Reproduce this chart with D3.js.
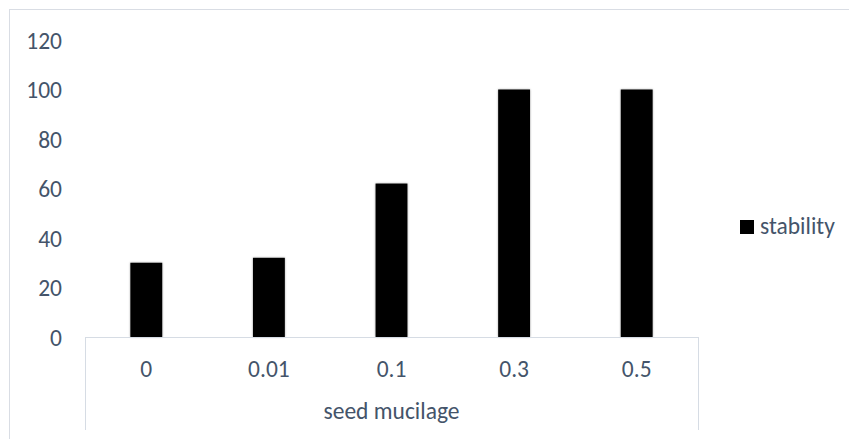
<!DOCTYPE html>
<html><head><meta charset="utf-8">
<script src="https://cdn.jsdelivr.net/npm/d3@7"></script>
<style>body{margin:0;background:#fff;}text{font-family:Carlito,Lato,"Open Sans",sans-serif;}</style>
</head><body>
<svg id="c" width="849" height="439"></svg>
<script>
const categories = ["0","0.01","0.1","0.3","0.5"];
const stability = [30, 32, 62, 100, 100];
const yTicks = [0,20,40,60,80,100,120];
const seriesName = "stability";
const xTitle = "seed mucilage";

(function(){
const svg = d3.select("#c");
const L = 85, R = 698, T = 40, B = 337;
const FS = "23.5px";
const x = d3.scaleBand().domain(categories).range([L, R]).paddingInner(0.74).paddingOuter(0.37);
const y = d3.scaleLinear().domain([0,120]).range([B, T]);
const txt = "#44546a";

svg.append("rect").attr("x",9.5).attr("y",9.5).attr("width",860).attr("height",440)
  .attr("fill","none").attr("stroke","#d9dde4");

const defs = svg.append("defs");
const f = defs.append("filter").attr("id","sh").attr("x","-20%").attr("y","-5%").attr("width","140%").attr("height","110%");
f.append("feGaussianBlur").attr("in","SourceAlpha").attr("stdDeviation",1.2).attr("result","b");
f.append("feComponentTransfer").attr("in","b").attr("result","o2").append("feFuncA").attr("type","linear").attr("slope",0.35);
const m = f.append("feMerge"); m.append("feMergeNode").attr("in","o2"); m.append("feMergeNode").attr("in","SourceGraphic");

svg.append("g").selectAll("rect").data(stability).join("rect")
  .attr("x",(d,i)=>x(categories[i])).attr("width",x.bandwidth())
  .attr("y",d=>y(d)).attr("height",d=>B-y(d))
  .attr("fill","#000").attr("filter","url(#sh)");

const ya = d3.axisLeft(y).tickValues(yTicks).tickSize(0).tickPadding(23);
const yg = svg.append("g").attr("transform",`translate(${L},0)`).call(ya);
yg.select(".domain").remove();
yg.selectAll("text").attr("fill",txt).style("font-size",FS).style("font-family","Carlito,Lato,sans-serif").attr("dy","0.36em");

const axc = "#d6dce4";
svg.append("line").attr("x1",L).attr("x2",R).attr("y1",B+0.5).attr("y2",B+0.5).attr("stroke",axc);
svg.append("line").attr("x1",L+0.5).attr("x2",L+0.5).attr("y1",B).attr("y2",430).attr("stroke",axc);
svg.append("line").attr("x1",R+0.5).attr("x2",R+0.5).attr("y1",B).attr("y2",430).attr("stroke",axc);

const xa = d3.axisBottom(x).tickSize(0);
const xg = svg.append("g").attr("transform",`translate(0,${B})`).call(xa);
xg.select(".domain").remove();
xg.selectAll("text").attr("fill",txt).style("font-size",FS).style("font-family","Carlito,Lato,sans-serif").attr("y",40).attr("dy",null);

svg.append("text").attr("x",(L+R)/2).attr("y",419).attr("text-anchor","middle")
  .attr("fill",txt).style("font-size",FS).text(xTitle);

svg.append("rect").attr("x",740).attr("y",220).attr("width",14).attr("height",14).attr("fill","#000");
svg.append("text").attr("x",760).attr("y",234).attr("fill",txt).style("font-size",FS).text(seriesName);
})();
</script>
</body></html>
